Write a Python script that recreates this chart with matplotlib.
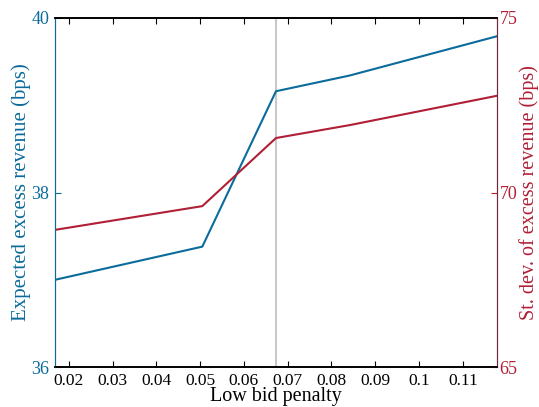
import matplotlib
matplotlib.use("Agg")
import matplotlib.pyplot as plt

# data
penalty = [0.01683, 0.05049, 0.06732, 0.08415, 0.11781]
exp_revenue = [37.00, 37.38, 39.16, 39.34, 39.79]
std_revenue = [68.93, 69.61, 71.56, 71.93, 72.77]
marker_x = 0.06732

blue = '#0b6b9b'
red = '#b01f35'

plt.rcParams['font.family'] = ['Liberation Serif', 'DejaVu Serif']
plt.rcParams['font.size'] = 12

fig = plt.figure(figsize=(5.39, 4.07), dpi=100)
fig.subplots_adjust(left=0.102, right=0.922, top=0.956, bottom=0.098)

ax1 = fig.add_subplot(1, 1, 1)
ax2 = ax1.twinx()

ax1.axvline(marker_x, color='#c8c8c8', lw=1.5, zorder=0)
ax1.plot(penalty, exp_revenue, color=blue, lw=1.5)
ax2.plot(penalty, std_revenue, color=red, lw=1.5)

ax1.set_xlim(penalty[0], penalty[-1])
ax1.set_ylim(36, 40)
ax2.set_ylim(65, 75)
ax1.set_xticks([0.02, 0.03, 0.04, 0.05, 0.06, 0.07, 0.08, 0.09, 0.1, 0.11])
ax1.set_xticklabels(['0.02', '0.03', '0.04', '0.05', '0.06', '0.07', '0.08', '0.09', '0.1', '0.11'])
ax1.set_yticks([36, 38, 40])
ax2.set_yticks([65, 70, 75])

ax1.set_xlabel('Low bid penalty', fontsize=14.5, labelpad=-1)
ax1.set_ylabel('Expected excess revenue (bps)', fontsize=15, color=blue, labelpad=0)
ax2.set_ylabel('St. dev. of excess revenue (bps)', fontsize=14.5, color=red, labelpad=1)

ax1.tick_params(axis='x', direction='in', top=True, length=4, labelsize=12.5, pad=4)
ax1.tick_params(axis='y', direction='in', colors=blue, length=4, labelsize=13, pad=4)
ax2.tick_params(axis='y', direction='in', colors=red, length=4, labelsize=13, pad=2)

ax1.spines['left'].set_color(blue)
ax2.spines['left'].set_color(blue)
ax2.spines['right'].set_color('#6e2a3c')
ax1.spines['right'].set_color('#6e2a3c')
for a in (ax1, ax2):
    a.spines['top'].set_linewidth(1.2)
    a.spines['bottom'].set_linewidth(1.2)

fig.savefig('out.png', dpi=100)
